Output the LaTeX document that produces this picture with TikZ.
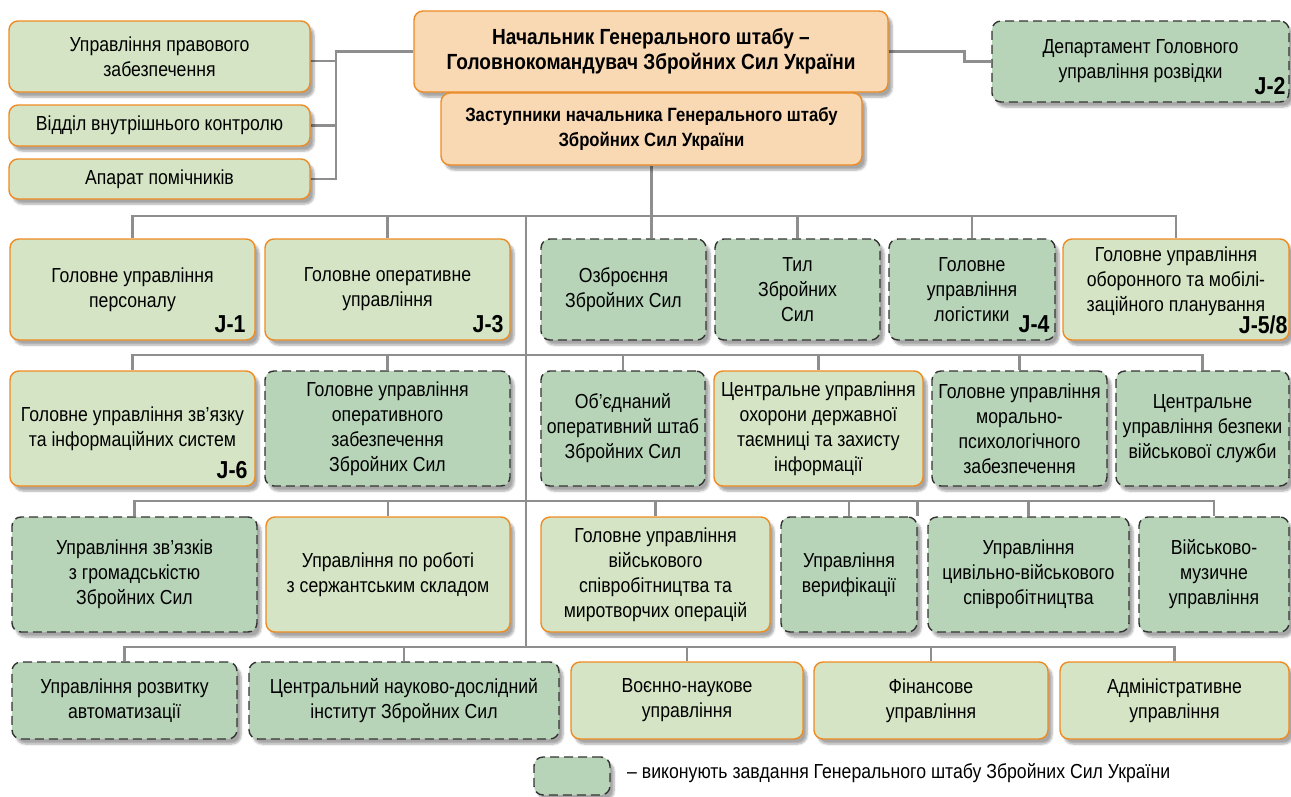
\documentclass[tikz,border=0pt]{standalone}
\usepackage{fontspec}
\setmainfont{Liberation Sans}[FakeStretch=0.87]
\usepackage{tikz}
\usetikzlibrary{positioning,shadows.blur,backgrounds}

\definecolor{mainfill}{HTML}{D4E4C4}
\definecolor{auxfill}{HTML}{B7D4B9}
\definecolor{headfill}{HTML}{F9D8B4}
\definecolor{rim}{HTML}{EE8B22}
\definecolor{wire}{HTML}{8E8E8E}

\begin{document}
\begin{tikzpicture}[
    x=1pt, y=-1pt,
    unit/.style={rounded corners=9pt, inner sep=0pt, align=center, font=\fontsize{20.3}{25}\selectfont,
                 blur shadow={shadow xshift=4pt, shadow yshift=-5pt, shadow opacity=35, shadow blur steps=6}}, % Common box
    main/.style={unit, draw=rim, line width=1.4pt, fill=mainfill},            % Units of the General Staff
    aux/.style={unit, draw=black!80, line width=1.4pt, dash pattern=on 9pt off 5pt, fill=auxfill}, % Units doing its tasks
    head/.style={unit, draw=rim, line width=1.4pt, fill=headfill, font=\fontsize{21.9}{25}\selectfont\bfseries}, % Command
    jtag/.style={anchor=base east, inner sep=0pt, font=\fontsize{24.5}{25}\selectfont\bfseries}, % J-codes
    link/.style={draw=wire, line width=2.6pt},                               % Connectors
    row1/.style={minimum height=101},
    row2/.style={minimum height=115},
    row3/.style={minimum height=115},
    row4/.style={minimum height=77}
    ]
    \useasboundingbox (0,0) rectangle (1291,796);

    % Command on top
    \node[head, minimum width=474, minimum height=81] (chief) at (651,51.5) {Начальник Генерального штабу –\\Головнокомандувач Збройних Сил України};
    \node[head, minimum width=421, minimum height=72, font=\fontsize{19.2}{25}\selectfont\bfseries] (deps) at (651.5,129) {Заступники начальника Генерального штабу\\Збройних Сил України};

    % Staff units beside the command
    \node[main, minimum width=301, minimum height=71] (law) at (159.5,56.5) {Управління правового\\забезпечення};
    \node[main, minimum width=301, minimum height=41] (ctrl) at (159.5,125.5) {Відділ внутрішнього контролю};
    \node[main, minimum width=301, minimum height=40] (aides) at (159.5,179) {Апарат помічників};
    \node[aux, minimum width=297, minimum height=81] (intel) at (1140.5,61.5) {Департамент Головного\\управління розвідки};
    \node[jtag] (j2) at ([xshift=-4pt, yshift=8pt]intel.south east) {J-2};

    % First row
    \node[main, row1, minimum width=245] (pers) at (132.5,289.5) {Головне управління\\персоналу};
    \node[main, row1, minimum width=245] (oper) at (387.5,289.5) {Головне оперативне\\управління};
    \node[aux, row1, minimum width=165] (arms) at (623.5,289.5) {Озброєння\\Збройних Сил};
    \node[aux, row1, minimum width=165] (rear) at (797.5,289.5) {Тил\\Збройних\\Сил};
    \node[aux, row1, minimum width=166] (logi) at (972,289.5) {Головне\\управління\\логістики};
    \node[main, row1, minimum width=226] (plan) at (1176,289.5) {Головне управління\\оборонного та мобілі-\\заційного планування\\[-5pt]\mbox{}};
    \node[jtag] (j1) at ([xshift=-10pt, yshift=8pt]pers.south east) {J-1};
    \node[jtag] (j3) at ([xshift=-7pt, yshift=8pt]oper.south east) {J-3};
    \node[jtag] (j4) at ([xshift=-6pt, yshift=8pt]logi.south east) {J-4};
    \node[jtag] (j58) at ([xshift=-2pt, yshift=7pt]plan.south east) {J-5/8};

    % Second row
    \node[main, row2, minimum width=245] (comm) at (132.5,428.5) {Головне управління зв’язку\\та інформаційних систем};
    \node[aux, row2, minimum width=245] (opsup) at (387.5,428.5) {Головне управління\\оперативного\\забезпечення\\Збройних Сил};
    \node[aux, row2, minimum width=164] (jhq) at (623,428.5) {Об’єднаний\\оперативний штаб\\Збройних Сил};
    \node[main, row2, minimum width=209] (secr) at (818.5,428.5) {Центральне управління\\охорони державної\\таємниці та захисту\\інформації};
    \node[aux, row2, minimum width=175] (moral) at (1019.5,428.5) {Головне управління\\морально-\\психологічного\\забезпечення};
    \node[aux, row2, minimum width=173] (ssec) at (1202.5,428.5) {Центральне\\управління безпеки\\військової служби};
    \node[jtag] (j6) at ([xshift=-8pt, yshift=8pt]comm.south east) {J-6};

    % Third row
    \node[aux, row3, minimum width=245] (pr) at (134.5,574.5) {Управління зв’язків\\з громадськістю\\Збройних Сил};
    \node[main, row3, minimum width=244] (serg) at (388,574.5) {Управління по роботі\\з сержантським складом};
    \node[main, row3, minimum width=229] (coop) at (655.5,574.5) {Головне управління\\військового\\співробітництва та\\миротворчих операцій};
    \node[aux, row3, minimum width=136] (verif) at (849,574.5) {Управління\\верифікації};
    \node[aux, row3, minimum width=201] (cimic) at (1028.5,574.5) {Управління\\цивільно-військового\\співробітництва};
    \node[aux, row3, minimum width=150] (music) at (1214,574.5) {Військово-\\музичне\\управління};

    % Fourth row
    \node[aux, row4, minimum width=225] (auto) at (124.5,700.5) {Управління розвитку\\автоматизації};
    \node[aux, row4, minimum width=310] (sri) at (404,700.5) {Центральний науково-дослідний\\інститут Збройних Сил};
    \node[main, row4, minimum width=232] (sci) at (687,700.5) {Воєнно-наукове\\управління};
    \node[main, row4, minimum width=234] (fin) at (931,700.5) {Фінансове\\управління};
    \node[main, row4, minimum width=229] (adm) at (1174.5,700.5) {Адміністративне\\управління};

    % Legend
    \node[aux, minimum width=76, minimum height=38] (leg) at (572,776) {};
    \node[anchor=west, inner sep=0pt, font=\fontsize{20.3}{25}\selectfont] (legtxt) at (627,773) {– виконують завдання Генерального штабу Збройних Сил України};

    % Connectors
    \begin{scope}[on background layer]
    \coordinate (lk) at (336,51.5);
    \coordinate (b1) at (526,216);
    \coordinate (b2) at (526,355);
    \coordinate (b3) at (526,501);
    \coordinate (b4) at (526,647);
    \draw[link] (chief.west) -- (lk) |- (aides.east);
    \draw[link] (lk) |- ([yshift=-4.5pt]law.east) (lk) |- (ctrl.east);
    \draw[link] (chief.east) -- ++(76,0) |- (intel.west);
    \draw[link] (deps.south) -- (deps.south |- arms.north);
    \draw[link] (b1) -- (b4);
    \draw[link] (b1) -| (pers.north) (b1) -| (oper.north) (b1) -| (rear.north) (b1) -| (logi.north) (b1) -| (plan.north);
    \draw[link] (b2) -| (comm.north) (b2) -| (opsup.north) (b2) -| (jhq.north) (b2) -| (secr.north) (b2) -| (moral.north) (b2) -| (ssec.north);
    \draw[link] (b3) -| (pr.north) (b3) -| (serg.north) (b3) -| (coop.north) (b3) -| (verif.north) (b3) -| (verif.north east) (b3) -| (cimic.north) (b3) -| (music.north);
    \draw[link] (b4) -| (auto.north) (b4) -| (sri.north) (b4) -| (sci.north) (b4) -| (fin.north) (b4) -| (adm.north);
    \end{scope}

\end{tikzpicture}
\end{document}
